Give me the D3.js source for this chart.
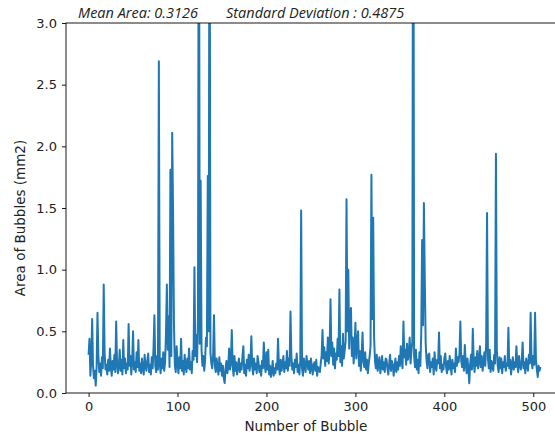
<!DOCTYPE html>
<html>
<head>
<meta charset="utf-8">
<script src="https://cdn.jsdelivr.net/npm/d3@7"></script>
<style>
    body { margin: 0; background: #fff; }
    .tick text { font-family: "DejaVu Sans", sans-serif; font-size: 13px; fill: #222; }
    .label { font-family: "DejaVu Sans", sans-serif; font-size: 13.5px; fill: #222; }
    .stat { font-family: "Open Sans", sans-serif; font-style: italic; font-size: 14.5px; fill: #222; }
</style>
</head>
<body>
<svg id="chart"></svg>
<script>
// area of each bubble (mm2), index = bubble number
let areas = [
    0.31, 0.44, 0.14, 0.26, 0.60, 0.22, 0.12, 0.18, 0.06, 0.21, 0.65, 0.30, 0.17, 0.24, 0.14, 0.29, 0.20, 0.88, 0.33, 0.19,
    0.23, 0.15, 0.27, 0.18, 0.36, 0.21, 0.14, 0.26, 0.19, 0.31, 0.17, 0.58, 0.24, 0.16, 0.22, 0.35, 0.18, 0.27, 0.15, 0.43,
    0.20, 0.28, 0.16, 0.24, 0.19, 0.56, 0.22, 0.30, 0.15, 0.26, 0.50, 0.19, 0.25, 0.17, 0.33, 0.21, 0.43, 0.18, 0.24, 0.16,
    0.28, 0.20, 0.15, 0.31, 0.22, 0.18, 0.26, 0.32, 0.17, 0.23, 0.15, 0.29, 0.20, 0.36, 0.63, 0.22, 0.17, 0.30, 0.19, 2.69,
    0.24, 0.16, 0.28, 0.20, 0.33, 0.18, 0.25, 0.48, 0.88, 0.35, 0.62, 0.21, 1.81, 0.30, 2.11, 1.45, 0.55, 0.22, 0.17, 0.38,
    0.24, 0.16, 0.29, 0.20, 0.44, 0.18, 0.26, 0.15, 0.31, 0.22, 0.17, 0.28, 0.20, 0.36, 0.19, 0.25, 0.16, 0.34, 0.27, 1.02,
    0.30, 0.47, 0.25, 0.62, 5.20, 0.40, 1.72, 0.35, 0.22, 0.30, 0.18, 0.27, 0.45, 0.38, 1.76, 0.50, 4.70, 0.33, 0.24, 0.20,
    0.30, 0.63, 0.22, 0.17, 0.28, 0.20, 0.15, 0.29, 0.18, 0.24, 0.14, 0.22, 0.12, 0.08, 0.20, 0.26, 0.16, 0.21, 0.36, 0.19,
    0.25, 0.51, 0.22, 0.14, 0.30, 0.18, 0.25, 0.15, 0.21, 0.28, 0.17, 0.24, 0.19, 0.30, 0.38, 0.16, 0.23, 0.14, 0.27, 0.20,
    0.31, 0.18, 0.25, 0.46, 0.21, 0.15, 0.28, 0.19, 0.24, 0.16, 0.30, 0.25, 0.17, 0.22, 0.14, 0.26, 0.20, 0.41, 0.23, 0.17,
    0.33, 0.19, 0.35, 0.15, 0.22, 0.13, 0.18, 0.26, 0.14, 0.20, 0.16, 0.24, 0.19, 0.44, 0.21, 0.15, 0.27, 0.18, 0.23, 0.30,
    0.17, 0.25, 0.20, 0.34, 0.18, 0.28, 0.22, 0.66, 0.30, 0.19, 0.24, 0.16, 0.27, 0.21, 0.32, 0.17, 0.23, 0.15, 0.26, 1.48,
    0.20, 0.14, 0.28, 0.22, 0.17, 0.30, 0.24, 0.19, 0.26, 0.16, 0.28, 0.21, 0.15, 0.23, 0.25, 0.18, 0.27, 0.14, 0.21, 0.19,
    0.17, 0.24, 0.30, 0.51, 0.28, 0.37, 0.22, 0.33, 0.26, 0.45, 0.24, 0.35, 0.76, 0.30, 0.41, 0.23, 0.36, 0.20, 0.32, 0.27,
    0.44, 0.30, 0.84, 0.25, 0.38, 0.22, 0.48, 0.28, 0.35, 0.42, 1.57, 0.50, 1.00, 0.36, 0.62, 0.69, 0.30, 0.45, 0.24, 0.36,
    0.57, 0.28, 0.40, 0.50, 0.22, 0.34, 0.18, 0.30, 0.49, 0.25, 0.21, 0.33, 0.19, 0.27, 0.16, 0.24, 0.30, 0.38, 1.77, 0.60,
    1.42, 0.45, 0.26, 0.20, 0.31, 0.18, 0.24, 0.29, 0.16, 0.22, 0.30, 0.19, 0.25, 0.17, 0.28, 0.27, 0.20, 0.15, 0.24, 0.31,
    0.18, 0.26, 0.23, 0.14, 0.21, 0.28, 0.17, 0.25, 0.19, 0.30, 0.22, 0.38, 0.26, 0.20, 0.58, 0.29, 0.35, 0.23, 0.40, 0.27,
    0.31, 0.45, 0.24, 0.34, 0.42, 5.80, 0.30, 0.21, 0.35, 0.19, 0.27, 0.16, 0.33, 0.22, 0.48, 1.24, 0.55, 1.54, 0.92, 0.40,
    0.26, 0.20, 0.31, 0.32, 0.17, 0.25, 0.21, 0.28, 0.15, 0.33, 0.22, 0.18, 0.27, 0.24, 0.49, 0.20, 0.30, 0.17, 0.23, 0.19,
    0.28, 0.32, 0.21, 0.16, 0.26, 0.19, 0.30, 0.23, 0.15, 0.27, 0.20, 0.24, 0.17, 0.36, 0.22, 0.29, 0.25, 0.32, 0.58, 0.26,
    0.21, 0.30, 0.18, 0.39, 0.24, 0.16, 0.28, 0.20, 0.08, 0.23, 0.31, 0.19, 0.52, 0.25, 0.17, 0.29, 0.22, 0.34, 0.20, 0.26,
    0.38, 0.21, 0.30, 0.18, 0.25, 0.33, 0.22, 0.40, 1.46, 0.28, 0.20, 0.35, 0.17, 0.26, 0.22, 0.18, 0.31, 0.24, 1.94, 0.35,
    0.22, 0.17, 0.29, 0.20, 0.28, 0.16, 0.25, 0.21, 0.30, 0.18, 0.24, 0.22, 0.53, 0.20, 0.27, 0.15, 0.23, 0.29, 0.19, 0.25,
    0.21, 0.38, 0.24, 0.17, 0.30, 0.22, 0.19, 0.26, 0.41, 0.20, 0.25, 0.16, 0.28, 0.22, 0.18, 0.31, 0.24, 0.65, 0.27, 0.20,
    0.30, 0.23, 0.65, 0.26, 0.19, 0.13, 0.22, 0.18, 0.21
]

let xTicks = [0, 100, 200, 300, 400, 500]
let yTicks = [0, 0.5, 1.0, 1.5, 2.0, 2.5, 3.0]
let statTexts = ["Mean Area: 0.3126", "Standard Deviation : 0.4875"]

let w = 555, h = 440
// plot box (right edge runs past the window, like the cropped original)
let margin = { left: 66, right: 563, top: 23, bottom: 393 }

let svg = d3.select("#chart")
    .attr("width", w)
    .attr("height", h)

// matplotlib-like 5% margin on x
let n = areas.length
let pad = (n - 1) * 0.05
let xScale = d3.scaleLinear()
    .domain([-pad, n - 1 + pad])
    .range([margin.left, margin.right])

let yScale = d3.scaleLinear()
    .domain([0, 3])
    .range([margin.bottom, margin.top])

svg.append("clipPath")
    .attr("id", "plotclip")
    .append("rect")
    .attr("x", margin.left)
    .attr("y", margin.top)
    .attr("width", margin.right - margin.left)
    .attr("height", margin.bottom - margin.top)

let line = d3.line()
    .x(function (d, i) { return xScale(i) })
    .y(function (d) { return yScale(d) })

svg.append("path")
    .datum(areas)
    .attr("clip-path", "url(#plotclip)")
    .attr("d", line)
    .attr("fill", "none")
    .attr("stroke", "#1f77b4")
    .attr("stroke-width", 2)
    .attr("stroke-linejoin", "round")

let xAxis = d3.axisBottom(xScale)
    .tickValues(xTicks)
    .tickSize(4)
    .tickPadding(5)
    .tickSizeOuter(0)

svg.append("g")
    .attr("transform", "translate(0," + margin.bottom + ")")
    .call(xAxis)

let yAxis = d3.axisLeft(yScale)
    .tickValues(yTicks)
    .tickFormat(d3.format(".1f"))
    .tickSize(4)
    .tickPadding(5)
    .tickSizeOuter(0)

svg.append("g")
    .attr("transform", "translate(" + margin.left + ",0)")
    .call(yAxis)

svg.selectAll(".domain").remove()
svg.selectAll(".tick line").attr("stroke", "#000").attr("stroke-width", 0.9)

// spines
svg.append("rect")
    .attr("x", margin.left)
    .attr("y", margin.top)
    .attr("width", margin.right - margin.left)
    .attr("height", margin.bottom - margin.top)
    .attr("fill", "none")
    .attr("stroke", "#000")
    .attr("stroke-width", 0.9)

svg.append("text")
    .attr("class", "label")
    .attr("text-anchor", "middle")
    .attr("x", xScale(250) - 5)
    .attr("y", 431)
    .text("Number of Bubble")

svg.append("text")
    .attr("class", "label")
    .attr("text-anchor", "middle")
    .attr("transform", "translate(25," + ((margin.top + margin.bottom) / 2 + 10) + ") rotate(-90)")
    .text("Area of Bubbles (mm2)")

svg.selectAll(".stat")
    .data(statTexts)
    .enter()
    .append("text")
    .attr("class", "stat")
    .attr("x", function (d, i) { return i == 0 ? 78 : 226 })
    .attr("y", 18)
    .text(function (d) { return d })
</script>
</body>
</html>
